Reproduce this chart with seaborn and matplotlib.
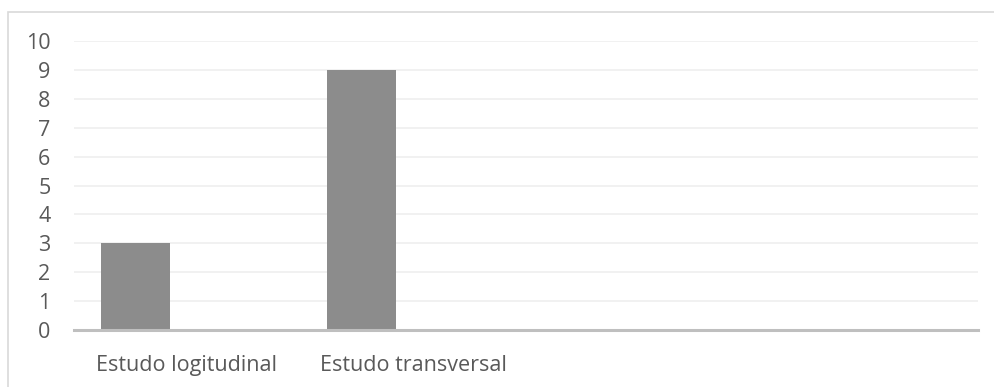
import matplotlib
matplotlib.use("Agg")
import matplotlib.pyplot as plt
import seaborn as sns
import pandas as pd
from matplotlib.patches import Rectangle

categories = ["Estudo logitudinal", "Estudo transversal"]
series_names = ["Série 1", "Série 2"]
series1 = [3, 9]
series2 = [0, 0]
y_ticks = list(range(0, 11))

df = pd.DataFrame({
    "categoria": categories * 2,
    "serie": [series_names[0]] * len(categories) + [series_names[1]] * len(categories),
    "valor": series1 + series2,
})

sns.set_theme(style="white")
plt.rcParams["font.family"] = ["Open Sans", "DejaVu Sans"]

fig = plt.figure(figsize=(9.95, 3.87), dpi=100)
ax = fig.add_axes([74 / 995, 1 - 330 / 387, (978 - 74) / 995, (330 - 41) / 387])

sns.barplot(data=df, x="categoria", y="valor", hue="serie", order=categories,
            palette=["#8c8c8c", "#bdbdbd"], width=0.91, gap=0.334,
            ax=ax, legend=False, linewidth=0, saturation=1)

ax.set_xlim(-0.5, 3.5)
ax.set_ylim(0, 10)
ax.set_yticks(y_ticks)
ax.set_yticklabels([str(t) for t in y_ticks])
ax.set_xlabel("")
ax.set_ylabel("")
ax.yaxis.grid(True, color="#efefef", linewidth=1.2)
ax.set_axisbelow(True)
for s in ["top", "right", "left"]:
    ax.spines[s].set_visible(False)
ax.spines["bottom"].set_color("#bfbfbf")
ax.spines["bottom"].set_linewidth(2.2)
ax.spines["bottom"].set_zorder(5)
ax.tick_params(axis="y", length=0, pad=17, labelsize=15.5, labelcolor="#595959")
ax.tick_params(axis="x", length=0, pad=18, labelsize=15.5, labelcolor="#595959")

fig.patches.append(Rectangle((8 / 995, -0.1), 1.2, 1 - 12 / 387 + 0.1,
                             transform=fig.transFigure, fill=False,
                             edgecolor="#d9d9d9", linewidth=1.2))

fig.savefig("out.png", dpi=100)
